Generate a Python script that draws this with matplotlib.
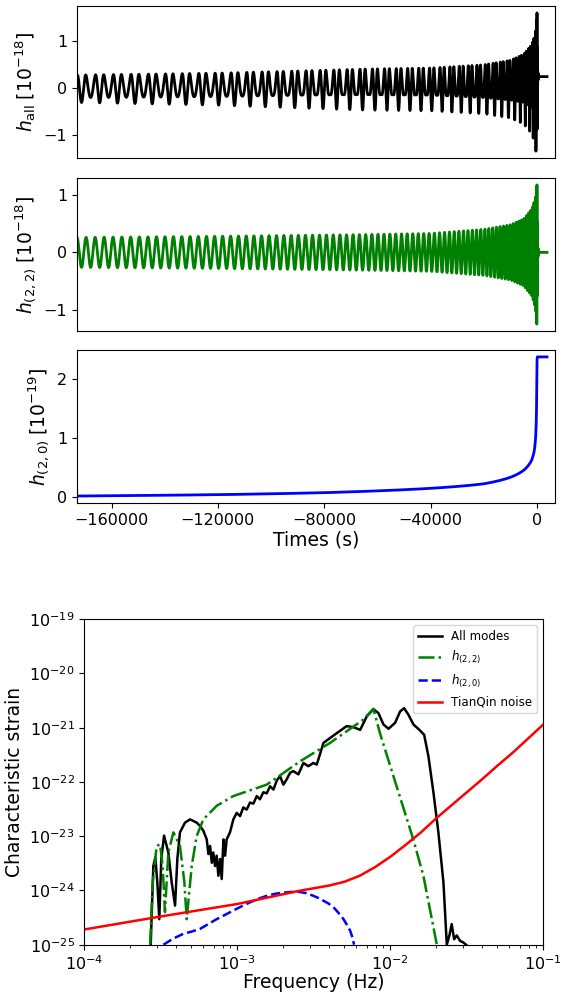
import numpy as np
import matplotlib
matplotlib.use("Agg")
import matplotlib.pyplot as plt
from matplotlib.ticker import NullLocator

# ---- time domain: values (strain in 1e-18, memory in 1e-19) ----
t_knots = [-173000, -120000, -80000, -40000, -20000, -10000, -5000, -2000,
           -1000, -500, -200, 0, 200, 3800]
f22_knots = [2.9e-4, 3.3e-4, 3.85e-4, 5.0e-4, 6.5e-4, 8.3e-4, 1.07e-3, 1.47e-3,
             1.8e-3, 2.2e-3, 2.6e-3, 7.5e-3, 1.2e-2, 1.2e-2]

amp_t = [-173000, -120000, -65000, -40000, -20000, -10000, -5000, -2000,
         -1000, -500, -200, 0, 100, 300, 600, 3800]
amp22 = [0.26, 0.28, 0.31, 0.33, 0.40, 0.48, 0.58, 0.75,
         0.88, 0.98, 1.1, 1.3, 0.6, 0.1, 0.0, 0.0]
amp33 = [0.05, 0.09, 0.17, 0.17, 0.17, 0.19, 0.23, 0.28,
         0.33, 0.38, 0.48, 0.72, 0.25, 0.03, 0.0, 0.0]

mem_t = [-173000, -120000, -80000, -40000, -20000, -10000, -5000, -2000,
         -1000, -500, -200, -50, 0, 100]
mem_vals = [0.012, 0.035, 0.069, 0.143, 0.22, 0.33, 0.45, 0.62,
            0.78, 1.0, 1.35, 1.9, 2.3, 2.38]

# ---- frequency domain: log10 values ----
all_logf = [-3.566, -3.549, -3.536, -3.523, -3.510, -3.497, -3.479, -3.451, -3.429,
            -3.407, -3.392, -3.375, -3.342, -3.309, -3.266, -3.244, -3.222, -3.200,
            -3.189, -3.178, -3.167, -3.157, -3.146, -3.135, -3.124, -3.113, -3.102,
            -3.091, -3.080, -3.070, -3.048, -3.026, -3.004, -2.982, -2.961, -2.939,
            -2.917, -2.895, -2.873, -2.852, -2.830, -2.808, -2.786, -2.764, -2.743,
            -2.721, -2.699, -2.677, -2.655, -2.634, -2.601, -2.568, -2.536, -2.503,
            -2.481, -2.437, -2.394, -2.350, -2.285, -2.241, -2.197, -2.154, -2.110,
            -2.078, -2.045, -2.012, -1.969, -1.936, -1.910, -1.882, -1.849, -1.810,
            -1.779, -1.751, -1.718, -1.686, -1.653, -1.631, -1.614, -1.599, -1.583,
            -1.566, -1.544, -1.523, -1.505]
all_logh = [-25.0, -23.55, -23.39, -23.85, -24.53, -23.42, -22.99, -23.30, -23.85,
            -24.28, -23.42, -22.93, -22.75, -22.69, -22.75, -22.81, -22.90, -23.06,
            -23.33, -23.18, -23.49, -23.30, -23.55, -23.36, -23.73, -23.42, -23.79,
            -23.06, -23.36, -23.06, -22.93, -22.69, -22.57, -22.63, -22.47, -22.51,
            -22.38, -22.40, -22.26, -22.32, -22.19, -22.21, -22.08, -22.14, -21.98,
            -21.89, -22.05, -21.95, -21.83, -21.80, -21.86, -21.65, -21.71, -21.65,
            -21.68, -21.28, -21.19, -21.10, -20.97, -20.99, -21.04, -20.79, -20.66,
            -20.73, -20.94, -21.02, -20.91, -20.70, -20.64, -20.76, -20.94, -21.04,
            -21.13, -21.53, -22.20, -22.93, -23.85, -25.0, -24.83, -24.62, -24.90,
            -24.83, -24.93, -24.96, -25.0]

h22_logf = [-3.570, -3.553, -3.527, -3.505, -3.488, -3.473, -3.451, -3.418, -3.375,
            -3.346, -3.331, -3.298, -3.266, -3.222, -3.135, -3.026, -2.808, -2.590,
            -2.394, -2.176, -2.111, -2.068, -1.959, -1.850, -1.784, -1.697]
h22_logh = [-25.0, -23.85, -23.18, -23.15, -23.55, -24.40, -23.30, -22.93, -23.18,
            -23.85, -24.53, -23.55, -23.00, -22.69, -22.44, -22.26, -22.05, -21.62,
            -21.28, -20.85, -20.65, -21.10, -22.08, -23.06, -23.73, -24.99]

h20_logf = [-3.483, -3.42, -3.353, -3.30, -3.244, -3.19, -3.135, -3.08, -3.026,
            -2.97, -2.917, -2.86, -2.808, -2.75, -2.699, -2.656, -2.62, -2.590,
            -2.55, -2.503, -2.47, -2.437, -2.405, -2.372, -2.34, -2.306, -2.285,
            -2.263, -2.25, -2.237]
h20_logh = [-25.0, -24.89, -24.80, -24.76, -24.71, -24.62, -24.53, -24.45, -24.37,
            -24.29, -24.22, -24.15, -24.10, -24.06, -24.04, -24.03, -24.025, -24.03,
            -24.05, -24.10, -24.14, -24.19, -24.24, -24.31, -24.41, -24.53, -24.63,
            -24.74, -24.85, -25.0]

noise_logf = [-4.0, -3.5, -3.0, -2.8, -2.6, -2.4, -2.3, -2.2, -2.1, -2.0,
              -1.9, -1.8, -1.7, -1.6, -1.5, -1.4, -1.3, -1.2, -1.1, -1.0]
noise_logh = [-24.72, -24.48, -24.25, -24.13, -24.01, -23.91, -23.84, -23.73, -23.57,
              -23.38, -23.16, -22.93, -22.67, -22.43, -22.19, -21.95, -21.70, -21.46,
              -21.20, -20.94]

# ---- build the waveforms from the read envelopes ----
t = np.linspace(-173000, 3800, 300000)
dt = t[1] - t[0]
f22 = 10 ** np.interp(t, t_knots, np.log10(f22_knots))
phi = 2 * np.pi * np.cumsum(f22) * dt
h22 = np.interp(t, amp_t, amp22) * np.cos(phi)
# memory: interpolate in log(time to merger) so that it grows smoothly
tau = np.log(np.maximum(150.0 - t, 50.0))
tau_knots = np.log(150.0 - np.array(mem_t, dtype=float))
h20 = np.interp(tau, tau_knots[::-1], np.array(mem_vals)[::-1])
h_all = h22 + 0.1 * h20 + np.interp(t, amp_t, amp33) * np.cos(1.5 * phi - np.pi / 2)

fig = plt.figure(figsize=(5.74, 9.97), dpi=100)
tick_fs = 11.5
lab_fs = 13.5

ax1 = fig.add_axes([0.1341, 0.8415, 0.8328, 0.1525])
ax2 = fig.add_axes([0.1341, 0.6680, 0.8328, 0.1535])
ax3 = fig.add_axes([0.1341, 0.4955, 0.8328, 0.1535])

ax1.plot(t, h_all, color='black', lw=2)
ax2.plot(t, h22, color='green', lw=2)
ax3.plot(t, h20, color='blue', lw=2)

ax1.set_ylabel(r'$h_{\rm all}\;[10^{-18}]$', fontsize=lab_fs)
ax2.set_ylabel(r'$h_{(2,2)}\;[10^{-18}]$', fontsize=lab_fs)
ax3.set_ylabel(r'$h_{(2,0)}\;[10^{-19}]$', fontsize=lab_fs)
ax3.set_xlabel('Times (s)', fontsize=lab_fs, labelpad=2)

for ax in (ax1, ax2, ax3):
    ax.set_xlim(-173000, 6800)
    ax.tick_params(labelsize=tick_fs)
ax1.set_yticks([-1, 0, 1])
ax2.set_yticks([-1, 0, 1])
ax3.set_yticks([0, 1, 2])
for ax in (ax1, ax2):
    ax.tick_params(bottom=False, labelbottom=False)
ax3.set_xticks([-160000, -120000, -80000, -40000, 0])

# ---- characteristic strain ----
ax4 = fig.add_axes([0.1469, 0.0525, 0.7997, 0.3264])
ax4.plot(10 ** np.array(all_logf), 10 ** np.array(all_logh), color='black', lw=1.8,
         label='All modes')
ax4.plot(10 ** np.array(h22_logf), 10 ** np.array(h22_logh), color='green', lw=1.8,
         ls='-.', label=r'$h_{(2,2)}$')
ax4.plot(10 ** np.array(h20_logf), 10 ** np.array(h20_logh), color='blue', lw=1.8,
         ls='--', label=r'$h_{(2,0)}$')
ax4.plot(10 ** np.array(noise_logf), 10 ** np.array(noise_logh), color='red', lw=1.8,
         label='TianQin noise')
ax4.set_xscale('log')
ax4.set_yscale('log')
ax4.set_xlim(1e-4, 1e-1)
ax4.set_ylim(1e-25, 1e-19)
ax4.yaxis.set_minor_locator(NullLocator())
ax4.tick_params(labelsize=tick_fs)
ax4.set_xlabel('Frequency (Hz)', fontsize=lab_fs, labelpad=0)
ax4.set_ylabel('Characteristic strain', fontsize=lab_fs)
ax4.legend(loc='upper right', fontsize=8.6)

fig.savefig('out.png', dpi=100)
